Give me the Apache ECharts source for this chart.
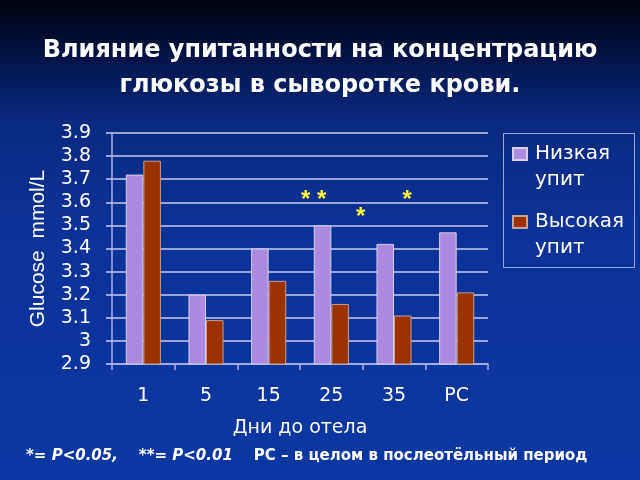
<!DOCTYPE html>
<html><head><meta charset="utf-8">
<script src="https://cdn.jsdelivr.net/npm/echarts@6/dist/echarts.min.js"></script>
<style>html,body{margin:0;padding:0;background:#0a2f8c}#c{width:640px;height:480px}</style>
</head><body><div id="c"></div>
<script>
var categories = ['1', '5', '15', '25', '35', 'PC'];
var lowCondition = [3.72, 3.20, 3.40, 3.50, 3.42, 3.47];
var highCondition = [3.78, 3.09, 3.26, 3.16, 3.11, 3.21];
var seriesNames = ['Низкая\nупит', 'Высокая\nупит'];
var yTicks = { min: 2.9, max: 3.9, step: 0.1 };
var marks = [ {cat: '25', value: 3.61, text: '* *', dx: -9}, {cat: '25', value: 3.533, text: '*', dx: 38}, {cat: '35', value: 3.61, text: '*', dx: 22} ];

var chart = echarts.init(document.getElementById('c'), null, {renderer: 'canvas'});
var font = 'Liberation Sans, Arial, sans-serif';
var wide = 'DejaVu Sans, Verdana, sans-serif';
chart.setOption({
  backgroundColor: {type: 'linear', x: 0, y: 0, x2: 0, y2: 1, colorStops: [
    {offset: 0, color: '#00020c'}, {offset: 0.12, color: '#031448'}, {offset: 0.25, color: '#0a2a80'},
    {offset: 0.5, color: '#0b3398'}, {offset: 1, color: '#0a38a2'}]},
  title: {
    text: 'Влияние упитанности на концентрацию\nглюкозы в сыворотке крови.',
    left: 'center', top: 28,
    textStyle: {color: '#ffffff', fontFamily: wide, fontWeight: 'bold', fontSize: 24, lineHeight: 35}
  },
  legend: {
    orient: 'vertical', left: 512, top: 115,
    padding: 0, itemGap: -10,
    itemWidth: 14, itemHeight: 12, icon: 'rect',
    formatter: function (name) { return '\n' + name; },
    textStyle: {color: '#ffffff', fontFamily: wide, fontSize: 20, lineHeight: 26, padding: [0, 0, 0, 3]},
    data: seriesNames
  },
  grid: {left: 112, right: 152, top: 133, bottom: 116},
  xAxis: {
    type: 'category', data: categories,
    name: 'Дни до отела', nameLocation: 'middle', nameGap: 55,
    nameTextStyle: {color: '#ffffff', fontFamily: wide, fontSize: 19},
    axisLine: {lineStyle: {color: '#a8b0e8', width: 1.5}},
    axisTick: {show: true, length: 6, lineStyle: {color: '#a8b0e8', width: 1.5}},
    axisLabel: {color: '#ffffff', fontFamily: wide, fontSize: 19, margin: 23}
  },
  yAxis: {
    type: 'value', min: yTicks.min, max: yTicks.max, interval: yTicks.step,
    name: 'Glucose  mmol/L', nameLocation: 'middle', nameGap: 63, nameRotate: 90,
    nameTextStyle: {color: '#ffffff', fontFamily: font, fontSize: 21},
    axisLine: {show: true, lineStyle: {color: '#a8b0e8', width: 1.5}},
    axisTick: {show: true, length: 6, lineStyle: {color: '#c8cbee', width: 1.5}},
    splitLine: {lineStyle: {color: '#c8cbee', width: 1.5}},
    axisLabel: {color: '#ffffff', fontFamily: wide, fontSize: 19, margin: 21,
      formatter: function (v) { return String(parseFloat(v.toFixed(1))); }}
  },
  series: [
    {name: seriesNames[0], type: 'bar', data: lowCondition, barGap: '0%', barCategoryGap: '44%',
     itemStyle: {color: '#ac8ae2', borderColor: '#d8d0e8', borderWidth: 1},
     markPoint: {symbol: 'circle', symbolSize: 0, data: marks.map(function (m) {
       return {coord: [m.cat, m.value], label: {show: true, formatter: m.text, offset: [m.dx, 0],
         color: '#ffff33', fontSize: 24, fontWeight: 'bold', fontFamily: font}};
     })}},
    {name: seriesNames[1], type: 'bar', data: highCondition,
     itemStyle: {color: '#9a3300', borderColor: '#c8a090', borderWidth: 1}}
  ],
  graphic: [{
    type: 'rect', left: 501, top: 131, z: 0,
    shape: {width: 131, height: 134},
    style: {fill: 'none', stroke: '#9aa6d8', lineWidth: 1}
  }, {
    type: 'text', left: 26, top: 449,
    style: {
      text: '{i|*= P<0.05,    **= P<0.01}{b|    PC – в целом в послеотёльный период}',
      rich: {
        i: {fill: '#ffffff', fontFamily: wide, fontSize: 15, fontWeight: 'bold', fontStyle: 'italic'},
        b: {fill: '#ffffff', fontFamily: wide, fontSize: 15, fontWeight: 'bold'}
      }
    }
  }]
});
</script></body></html>
